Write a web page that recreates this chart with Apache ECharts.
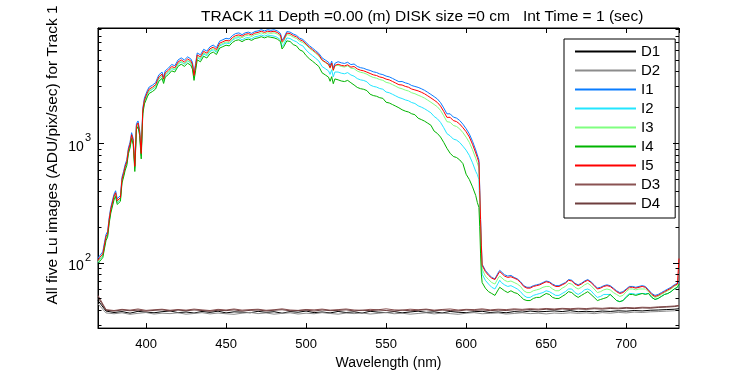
<!DOCTYPE html>
<html>
<head>
<meta charset="utf-8">
<script src="https://cdn.jsdelivr.net/npm/echarts/dist/echarts.min.js"></script>
<style>html,body{margin:0;padding:0;background:#fff}#c{width:750px;height:375px}</style>
</head>
<body>
<div id="c"></div>
<script>
// ---------- DATA ----------
const WL = [370,371,372,373,374,375,376,377,378,379,
 380,381,382,383,384,385,386,387,388,389,
 390,391,392,393,394,395,396,397,398,399,
 400,401,402,403,404,405,406,407,408,409,
 410,411,412,414,416,418,420,422,424,426,
 428,429,430,431,432,434,436,438,440,442,
 444,446,448,450,452,454,456,458,460,462,
 464,466,468,470,472,474,476,478,480,482,
 484,485,486,488,490,492,494,496,498,500,
 502,504,506,508,510,512,514,515,516,517,
 518,520,522,524,526,528,530,532,534,536,
 538,540,542,544,546,548,550,552,554,556,
 558,560,562,564,566,568,570,572,574,576,
 578,580,582,584,586,588,589,590,592,594,
 596,598,600,602,604,606,607,608,608.5,609,
 609.5,610,612,614,616,618,620,621,622,624,
 626,628,630,632,634,636,638,640,642,644,
 646,648,650,652,654,656,658,660,662,664,
 666,668,670,672,674,676,678,680,682,684,
 686,688,690,692,694,696,698,700,702,704,
 706,708,710,712,714,716,718,720,722,724,
 726,728,730,732,733];

const I5 = [104,110,106,118,140,165,175,230,280,290,
 360,385,330,318,350,500,560,640,700,880,
 980,1180,1050,640,1400,1480,1250,820,1900,2300,
 2500,2700,2850,2800,2950,2850,3100,3350,3600,3500,
 3800,3450,3900,4100,4400,4300,4800,5000,4800,5100,
 4900,4600,3700,4500,5500,5300,5900,5700,6200,6400,
 6100,6900,7100,7300,7200,7700,8000,8100,7900,8200,
 8300,8100,8400,8500,8700,8500,8700,8600,8700,8500,
 8100,7100,7400,8400,8300,8000,7800,7400,7200,6800,
 6400,6100,5800,5500,5000,4800,4600,4300,4700,4100,
 4500,4600,4500,4450,4550,4350,4400,4200,4100,4050,
 3950,3850,3750,3700,3600,3550,3450,3400,3300,3200,
 3100,3080,3000,2950,2850,2800,2750,2680,2600,2500,
 2400,2300,2200,2050,1850,1650,1600,1650,1550,1520,
 1450,1350,1250,1130,980,830,760,690,400,230,
 140,95,84,78,74,72,80,84,81,77,
 75,76,74,72,68,63,61,61,63,64,
 65,67,69,68,65,63,63,65,67,71,
 70,66,64,66,69,71,68,64,60,61,
 63,64,63,60,57,55,56,59,62,62,
 61,62,63,62,58,54,52,53,55,57,
 59,61,64,66,108];

const I1 = [108,114,110,123,146,172,182,239,291,302,
 374,400,343,331,364,520,582,666,728,915,
 1019,1227,1092,666,1456,1539,1300,853,1976,2392,
 2600,2808,2964,2912,3068,2964,3224,3484,3744,3640,
 3952,3588,4056,4264,4576,4472,4992,5200,4992,5304,
 5096,4784,3848,4680,5720,5512,6136,5928,6448,6656,
 6344,7176,7384,7592,7488,8008,8320,8424,8137,8446,
 8549,8343,8652,8755,8961,8755,8961,8858,8961,8755,
 8343,7313,7622,8652,8549,8240,8034,7622,7416,7004,
 6592,6283,5974,5665,5200,4992,4784,4472,4888,4264,
 4680,4830,4725,4673,4778,4568,4620,4410,4305,4253,
 4148,4081,3975,3922,3816,3763,3657,3604,3498,3392,
 3286,3296,3210,3157,3050,2996,2943,2868,2782,2675,
 2568,2461,2354,2194,1980,1766,1712,1766,1659,1626,
 1552,1445,1325,1198,1039,880,798,725,420,240,
 145,97,86,80,75,73,82,86,83,79,
 77,78,75,73,69,64,62,62,64,65,
 66,68,70,69,66,64,64,66,68,72,
 71,67,65,67,70,72,69,65,61,62,
 64,65,64,61,58,56,57,60,63,63,
 62,63,64,63,59,55,53,54,56,58,
 60,62,65,67,68];

const I3 = [101,107,103,114,136,160,170,223,272,281,
 349,373,320,308,340,485,543,621,679,854,
 951,1145,1019,621,1358,1436,1213,795,1843,2231,
 2425,2619,2765,2716,2862,2765,3007,3250,3492,3395,
 3686,3347,3783,3977,4268,4171,4656,4850,4656,4947,
 4753,4462,3589,4365,5335,5141,5723,5529,6014,6208,
 5917,6693,6887,7081,6984,7469,7760,7857,7663,7954,
 8051,7857,8148,8245,8439,8245,8439,8342,8439,8245,
 7857,6887,7178,8148,8051,7760,7566,7178,6984,6664,
 6272,5978,5684,5390,4950,4752,4554,4257,4653,4059,
 4455,4508,4410,4361,4459,4263,4224,4032,3936,3888,
 3792,3658,3563,3515,3420,3373,3243,3196,3102,3008,
 2914,2864,2790,2744,2651,2604,2530,2466,2392,2300,
 2208,2116,2024,1886,1702,1518,1472,1502,1411,1383,
 1320,1229,1125,1017,882,747,684,621,360,200,
 125,88,77,72,68,66,74,77,75,71,
 69,70,68,66,63,58,56,56,58,59,
 60,62,63,63,60,58,58,61,63,67,
 66,62,60,62,65,67,64,60,56,57,
 59,60,59,56,54,52,53,57,60,60,
 59,60,60,60,57,53,51,52,54,56,
 58,60,63,65,66];

const I2 = [100,106,102,113,134,158,168,221,269,278,
 346,370,317,305,336,480,538,614,672,845,
 941,1133,1008,614,1344,1421,1200,787,1824,2208,
 2400,2592,2736,2688,2832,2736,2976,3216,3456,3360,
 3648,3312,3744,3936,4224,4128,4608,4800,4608,4896,
 4704,4370,3515,4275,5225,5035,5605,5415,5890,6080,
 5795,6555,6745,6935,6840,7315,7600,7695,7347,7626,
 7719,7533,7812,7905,8091,7905,8091,7998,7917,7735,
 7371,6461,6734,7644,7553,7280,7098,6734,6552,6052,
 5696,5429,5162,4895,4400,4224,4048,3784,4136,3608,
 3960,3956,3870,3827,3913,3741,3652,3486,3403,3362,
 3279,3080,3000,2960,2880,2840,2691,2652,2574,2496,
 2418,2372,2310,2272,2195,2156,2063,2010,1950,1875,
 1800,1679,1606,1497,1351,1205,1168,1155,1085,1064,
 1015,945,875,791,686,581,547,497,300,170,
 105,80,71,66,62,60,67,71,68,65,
 63,64,62,60,57,53,51,51,53,54,
 55,56,58,57,55,53,53,55,57,60,
 60,56,54,56,59,60,58,54,51,52,
 54,54,54,51,48,47,48,52,55,55,
 54,55,55,55,55,51,49,50,52,54,
 55,57,60,62,64];

const I4 = [97,102,99,110,130,153,163,214,260,270,
 335,358,307,296,326,465,521,595,651,818,
 911,1097,977,580,1302,1376,1163,740,1767,2139,
 2300,2484,2622,2576,2714,2622,2852,3082,3312,3220,
 3496,3174,3588,3772,4048,3956,4416,4600,4416,4692,
 4508,4186,3367,4095,5005,4823,5369,5187,5642,5824,
 5551,6279,6461,6643,6552,7007,7280,7371,7110,7380,
 7470,7290,7560,7650,7830,7650,7830,7740,7656,7480,
 7128,6177,6438,7224,7138,6720,6552,6068,5904,5440,
 5120,4880,4640,4400,3900,3744,3588,3311,3619,3157,
 3465,3404,3330,3293,3367,3219,3080,2940,2870,2835,
 2765,2580,2513,2479,2412,2379,2208,2176,2112,2048,
 1984,1910,1860,1829,1767,1736,1623,1581,1534,1475,
 1416,1265,1210,1128,1018,908,880,825,775,760,
 725,675,550,497,431,365,319,290,200,120,
 80,68,61,57,55,53,59,62,61,58,
 56,58,56,55,52,49,48,48,50,51,
 51,53,55,54,51,50,50,52,54,57,
 56,53,51,53,55,57,54,51,48,49,
 50,51,54,51,48,47,48,51,54,54,
 53,54,55,54,55,51,49,50,52,54,
 55,57,60,62,66];

const WD = [370,375,380,385,390,395,400,405,410,415,
 420,425,430,435,440,445,450,455,460,465,
 470,475,480,485,490,495,500,505,510,515,
 520,525,530,535,540,545,550,555,560,565,
 570,575,580,585,590,595,600,605,610,615,
 620,625,630,635,640,645,650,655,660,665,
 670,675,680,685,690,695,700,705,710,715,
 720,725,730,733];

const D1 = [48.0,39.2,38.1,38.8,37.6,39.0,38.3,37.9,38.7,39.3,
 38.0,38.5,37.7,38.9,38.2,39.1,37.8,38.6,38.4,37.9,
 39.0,38.2,38.7,37.6,38.8,38.3,39.2,38.0,38.5,37.8,
 38.9,38.1,38.6,37.7,39.0,38.4,38.0,38.8,37.9,38.5,
 39.1,38.2,38.6,37.8,38.9,38.3,38.0,38.7,39.0,38.1,
 38.5,37.9,38.8,38.4,39.2,38.6,38.9,39.3,38.8,39.5,
 38.7,39.0,38.6,39.2,38.9,39.4,39.1,39.6,39.3,39.8,
 40.0,40.3,40.6,41.0];

const D2 = [45.0,37.8,37.2,37.9,36.8,37.5,38.1,37.0,37.6,37.3,
 37.9,36.9,37.4,38.0,37.1,37.7,37.2,36.8,37.6,38.2,
 37.3,37.8,36.9,37.5,37.9,37.0,37.6,37.2,38.0,37.4,
 36.9,37.7,37.3,37.8,37.0,37.5,38.1,37.2,37.6,36.9,
 37.4,37.9,37.1,37.7,37.3,36.8,37.6,38.0,37.2,37.5,
 37.8,37.0,37.4,37.9,37.3,37.6,37.1,37.7,37.4,37.9,
 37.5,37.8,37.3,38.0,37.6,38.2,37.8,38.4,38.1,38.6,
 38.8,39.1,39.4,39.8];

const D3 = [53.0,40.3,39.6,40.5,39.9,40.8,39.7,40.2,40.6,39.8,
 40.4,39.9,40.7,40.1,39.6,40.5,40.0,40.8,39.9,40.3,
 40.6,39.8,40.2,40.9,40.0,39.7,40.4,40.1,40.7,39.9,
 40.3,40.8,40.0,39.8,40.5,40.2,40.9,40.1,39.9,40.6,
 40.2,40.7,39.9,40.4,40.8,40.0,40.5,40.3,40.9,40.1,
 40.6,40.3,40.9,40.5,41.0,40.7,41.2,40.8,41.3,41.0,
 41.4,41.1,41.6,41.3,41.8,41.5,42.0,41.7,42.2,42.0,
 42.5,42.8,43.2,43.8];

const D4 = [51.0,39.8,39.2,40.0,39.4,39.9,39.1,39.7,40.1,39.3,
 39.9,39.4,40.0,39.6,39.1,39.8,39.5,40.1,39.2,39.7,
 40.0,39.3,39.8,40.2,39.4,39.6,39.9,39.2,40.0,39.5,
 39.7,40.1,39.3,39.8,39.5,40.0,39.6,39.2,39.9,39.4,
 39.8,40.2,39.4,39.9,39.6,39.3,40.0,39.7,40.1,39.5,
 39.9,39.6,40.2,39.8,40.4,40.0,40.6,40.2,40.8,40.4,
 40.8,40.5,41.0,40.7,41.2,40.9,41.4,41.1,41.6,41.4,
 42.0,42.3,42.7,43.3];

const SERIES_NAMES = ['D1','D2','I1','I2','I3','I4','I5','D3','D4'];
const Y_MAJOR = [100, 1000];
const Y_MINOR = [30,40,50,60,70,80,90,200,300,400,500,600,700,800,900,2000,3000,4000,5000,6000,7000,8000,9000];
const TITLE = 'TRACK 11 Depth =0.00 (m) DISK size =0 cm   Int Time = 1 (sec)';
const X_NAME = 'Wavelength (nm)';
const Y_NAME = 'All five Lu images (ADU/pix/sec) for Track 1';

// ---------- CHART ----------
const X_MIN = 370, X_MAX = 733, Y_MIN = 28.2, Y_MAX = 9260;
const FONT = '"Liberation Sans", Arial, Helvetica, sans-serif';
const COLORS = {D1:'#000000', D2:'#8c8c8c', I1:'#0a7cff', I2:'#22e6ff', I3:'#80ff80', I4:'#00b400', I5:'#ff0000', D3:'#8a5252', D4:'#6e3e3e'};

function pairs(xs, ys){ return xs.map((x,i)=>[x, ys[i]]); }
const SRC = {D1:[WD,D1], D2:[WD,D2], I1:[WL,I1], I2:[WL,I2], I3:[WL,I3], I4:[WL,I4], I5:[WL,I5], D3:[WD,D3], D4:[WD,D4]};

const problems = [];
SERIES_NAMES.forEach(n => { if (SRC[n][0].length !== SRC[n][1].length) problems.push(n + ':' + SRC[n][0].length + '/' + SRC[n][1].length); });

function tickRenderer(len){
  return function(params, api){
    const p = api.coord([X_MIN, api.value(1)]);
    const cs = params.coordSys;
    const y = Math.round(p[1]) + 0.5;
    const st = {stroke:'#000', lineWidth:1};
    return {type:'group', children:[
      {type:'line', shape:{x1:cs.x, y1:y, x2:cs.x+len, y2:y}, style:st},
      {type:'line', shape:{x1:cs.x+cs.width, y1:y, x2:cs.x+cs.width-len, y2:y}, style:st}
    ]};
  };
}

const series = SERIES_NAMES.map(n => ({
  type:'line', name:n, data: pairs(SRC[n][0], SRC[n][1]),
  symbol:'none', showSymbol:false, animation:false,
  lineStyle:{width:1, color:COLORS[n]}, itemStyle:{color:COLORS[n]},
  emphasis:{disabled:true}
}));
series.push({type:'custom', name:'ymajor', renderItem:tickRenderer(6), data:Y_MAJOR.map(v=>[X_MIN, v]), z:10, silent:true, animation:false});
series.push({type:'custom', name:'yminor', renderItem:tickRenderer(3.5), data:Y_MINOR.map(v=>[X_MIN, v]), z:10, silent:true, animation:false});

const graphic = [{
  type:'text', x:53, y:155, rotation:Math.PI/2,
  style:{text:Y_NAME, fill:'#000', font:'15.5px ' + FONT, align:'center', verticalAlign:'middle', textAlign:'center', textVerticalAlign:'middle'}
}];
if (problems.length) graphic.push({type:'text', x:120, y:200, style:{text:'LEN MISMATCH ' + problems.join(' '), fill:'#f0f', font:'16px sans-serif'}});

const chart = echarts.init(document.getElementById('c'), null, {renderer:'canvas'});
chart.setOption({
  animation:false,
  backgroundColor:'#fff',
  textStyle:{fontFamily:FONT, color:'#000'},
  title:{text:TITLE, left:196, top:4, textStyle:{fontSize:15.5, fontWeight:'normal', color:'#000', fontFamily:FONT}},
  grid:{left:98, right:71, top:28, bottom:45, show:true, borderColor:'#000', borderWidth:1, backgroundColor:'#fff'},
  legend:{
    data:SERIES_NAMES.map(n => ({name:n, itemStyle:{color:COLORS[n]}})),
    orient:'vertical', left:564, top:39,
    icon:'rect', itemWidth:61, itemHeight:2, itemGap:2,
    padding:[4,15,6,11], borderColor:'#000', borderWidth:1, borderRadius:0, backgroundColor:'#fff',
    textStyle:{fontSize:15, lineHeight:17, color:'#000', fontFamily:FONT},
    selectedMode:false
  },
  xAxis:[{
    type:'value', min:X_MIN, max:X_MAX, splitNumber:7,
    axisLine:{show:true, lineStyle:{color:'#000', width:1}},
    axisTick:{show:true, inside:true, length:5, lineStyle:{color:'#000'}},
    axisLabel:{showMinLabel:false, showMaxLabel:false, fontSize:13, color:'#000', margin:10, fontFamily:FONT},
    splitLine:{show:false},
    name:X_NAME, nameLocation:'middle', nameGap:25, nameTextStyle:{fontSize:14, color:'#000', fontFamily:FONT}
  },{
    type:'value', position:'top', min:X_MIN, max:X_MAX, splitNumber:7,
    axisLine:{show:true, lineStyle:{color:'#000', width:1}},
    axisTick:{show:true, inside:true, length:5, lineStyle:{color:'#000'}},
    axisLabel:{show:false}, splitLine:{show:false}
  }],
  yAxis:{
    type:'log', logBase:10, min:Y_MIN, max:Y_MAX,
    axisLine:{show:true, lineStyle:{color:'#000', width:1}},
    axisTick:{show:false}, splitLine:{show:false}, minorTick:{show:false},
    axisLabel:{
      showMinLabel:false, showMaxLabel:false, margin:7, color:'#000',
      formatter:function(v){
        const l = Math.log10(v), r = Math.round(l);
        if (Math.abs(l - r) < 1e-6 && (r === 2 || r === 3)) return '{b|10}{s|' + r + '}';
        return '';
      },
      rich:{
        b:{fontSize:14, color:'#000', fontFamily:FONT, verticalAlign:'bottom'},
        s:{fontSize:11, color:'#000', fontFamily:FONT, verticalAlign:'bottom', padding:[0,0,10,1]}
      }
    }
  },
  graphic:graphic,
  series:series
});
</script>
</body>
</html>
